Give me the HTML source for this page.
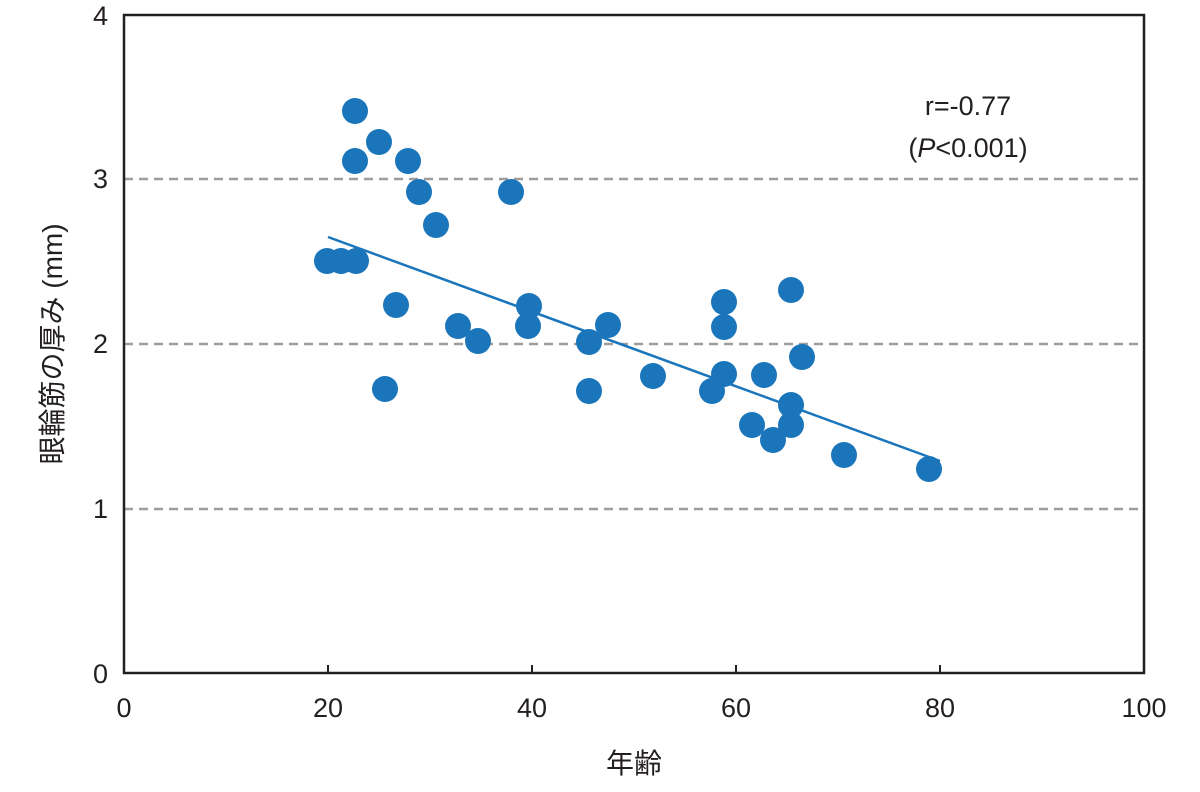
<!DOCTYPE html>
<html><head><meta charset="utf-8"><style>
html,body{margin:0;padding:0;background:#fff;}
svg text{font-family:"Liberation Sans","Noto Sans CJK JP",sans-serif;fill:#231f20;}
</style></head><body>
<svg width="1200" height="787" viewBox="0 0 1200 787" xmlns="http://www.w3.org/2000/svg">
<g stroke="#9d9d9d" stroke-width="2.5" stroke-dasharray="9,6">
<line x1="124" y1="179" x2="1144" y2="179"/>
<line x1="124" y1="344" x2="1144" y2="344"/>
<line x1="124" y1="509" x2="1144" y2="509"/>
</g>
<rect x="124" y="15" width="1020" height="658" fill="none" stroke="#231f20" stroke-width="2.5"/>
<g stroke="#231f20" stroke-width="2">
<line x1="328" y1="673" x2="328" y2="665"/><line x1="532" y1="673" x2="532" y2="665"/>
<line x1="736" y1="673" x2="736" y2="665"/><line x1="940" y1="673" x2="940" y2="665"/>
</g>
<g font-size="27" text-anchor="middle">
<text x="124" y="717">0</text><text x="328" y="717">20</text><text x="532" y="717">40</text>
<text x="736" y="717">60</text><text x="940" y="717">80</text><text x="1144" y="717">100</text>
</g>
<g font-size="27" text-anchor="end">
<text x="108" y="683">0</text><text x="108" y="518">1</text><text x="108" y="353">2</text>
<text x="108" y="188">3</text><text x="108" y="25">4</text>
</g>
<text x="634" y="773" font-size="28" text-anchor="middle">年齢</text>
<text transform="translate(62,344) rotate(-90)" font-size="28" text-anchor="middle">眼輪筋の厚み (mm)</text>
<text x="968" y="115" font-size="27" text-anchor="middle">r=-0.77</text>
<text x="968" y="157" font-size="27" text-anchor="middle">(<tspan font-style="italic">P</tspan>&lt;0.001)</text>
<line x1="328" y1="237" x2="940" y2="461" stroke="#1a75bb" stroke-width="2.5"/>
<g fill="#1a75bb">
<circle cx="327" cy="261" r="13"/><circle cx="341" cy="261" r="13"/><circle cx="356" cy="261" r="13"/>
<circle cx="355" cy="111" r="13"/><circle cx="355" cy="161" r="13"/><circle cx="379" cy="142" r="13"/>
<circle cx="408" cy="161" r="13"/><circle cx="419" cy="192" r="13"/><circle cx="436" cy="225" r="13"/>
<circle cx="396" cy="305" r="13"/><circle cx="385" cy="389" r="13"/><circle cx="458" cy="326" r="13"/>
<circle cx="478" cy="341" r="13"/><circle cx="511" cy="192" r="13"/><circle cx="529" cy="306" r="13"/>
<circle cx="528" cy="326" r="13"/><circle cx="589" cy="342" r="13"/><circle cx="589" cy="391" r="13"/>
<circle cx="608" cy="325" r="13"/><circle cx="653" cy="376" r="13"/><circle cx="712" cy="391" r="13"/>
<circle cx="724" cy="302" r="13"/><circle cx="724" cy="327" r="13"/><circle cx="724" cy="374" r="13"/>
<circle cx="764" cy="375" r="13"/><circle cx="752" cy="425" r="13"/><circle cx="773" cy="440" r="13"/>
<circle cx="791" cy="290" r="13"/><circle cx="791" cy="405" r="13"/><circle cx="791" cy="425" r="13"/>
<circle cx="802" cy="357" r="13"/><circle cx="844" cy="455" r="13"/><circle cx="929" cy="469" r="13"/>
</g>
</svg>
</body></html>
